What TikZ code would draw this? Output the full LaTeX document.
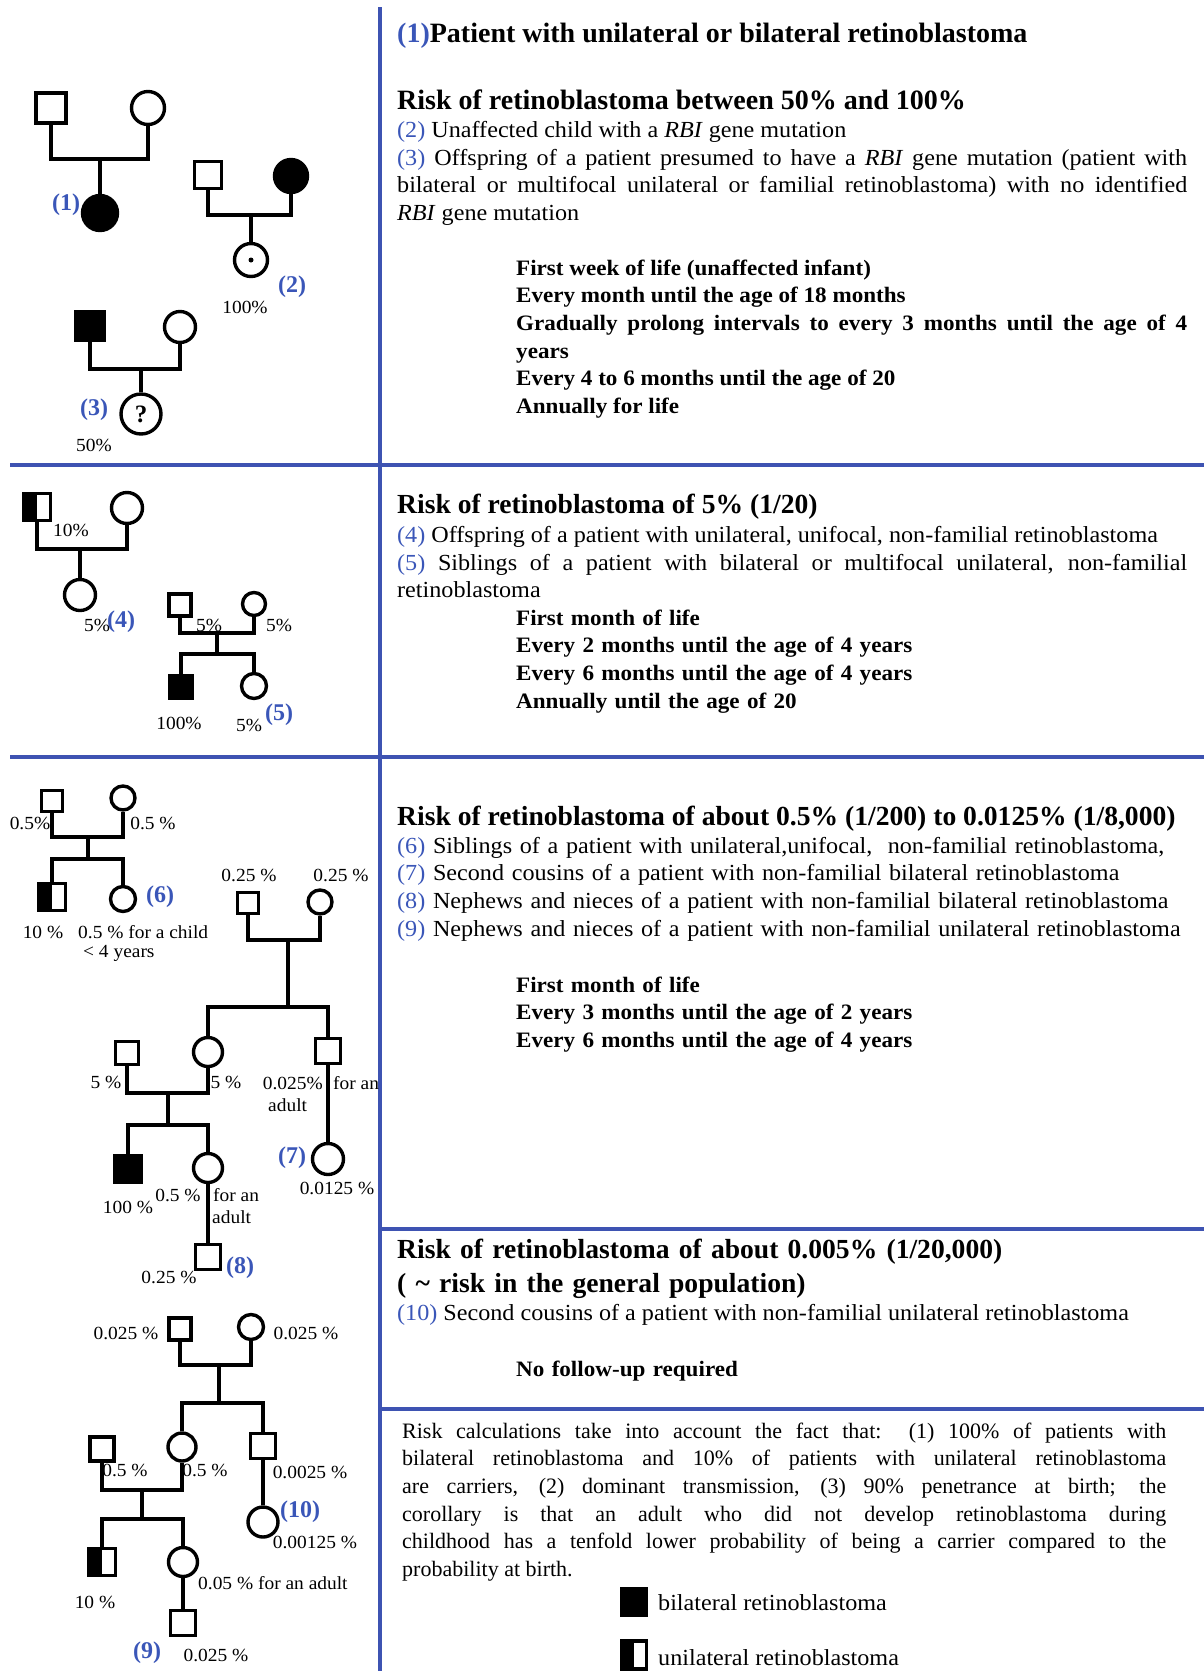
\documentclass[tikz,border=0pt]{standalone}
\usepackage{fontspec}
\setmainfont{Liberation Serif}
\newfontfamily\bodyfont{Liberation Serif}[FakeStretch=1.05]
\usetikzlibrary{positioning}
\definecolor{ruleblue}{RGB}{62,83,178}
\definecolor{numblue}{RGB}{58,86,184}

\begin{document}
\begin{tikzpicture}[x=1pt,y=-1pt,
  ped/.style={draw,line width=3.4pt,inner sep=0pt,fill=white},
  male/.style={ped,rectangle,minimum size=#1},
  male/.default=26pt,
  female/.style={ped,circle,minimum size=#1},
  female/.default=28pt,
  aff/.style={fill=black},
  halfaff/.style={path picture={\fill[black] (path picture bounding box.south west) rectangle (path picture bounding box.north);}},
  carrier/.style={path picture={\fill[black] (path picture bounding box.center) circle (2.5pt);}},
  link/.style={line width=3.4pt},
  rule/.style={draw=ruleblue,line width=4.5pt},
  pct/.style={font=\bodyfont\fontsize{18.5}{21}\selectfont,inner sep=0pt},
  num/.style={text=numblue,font=\bfseries\fontsize{24}{28}\selectfont,inner sep=0pt},
  txt/.style={font=\bodyfont\fontsize{23}{27.7}\selectfont,anchor=base west,inner sep=0pt},
  note/.style={font=\fontsize{22}{27.7}\selectfont,anchor=base west,inner sep=0pt},
  head/.style={font=\bfseries\fontsize{27.6}{34}\selectfont,anchor=base west,inner sep=0pt},
  plan/.style={font=\bodyfont\bfseries\fontsize{22}{27.7}\selectfont,anchor=base west,inner sep=0pt,text width=671pt,align=left}]
\useasboundingbox (0,0) rectangle (1204,1671);

% frame
\draw[rule] (380,7) -- (380,1671);
\draw[rule] (10,465) -- (1204,465);
\draw[rule] (10,757) -- (1204,757);
\draw[rule] (380,1229) -- (1204,1229);
\draw[rule] (380,1409) -- (1204,1409);

% section 1 text
\node[head,font=\bfseries\fontsize{28}{34}\selectfont] (t1) at (397,42) {\textcolor{numblue}{(1)}Patient with unilateral or bilateral retinoblastoma};
\node[head,font=\bfseries\fontsize{28}{34}\selectfont] (h1) at (397,109) {Risk of retinoblastoma between 50\% and 100\%};
\node[txt] (r2) at (397,137) {\textcolor{numblue}{(2)} Unaffected child with a \textit{RBI} gene mutation};
\node[txt,text width=790pt,align=justify] (r3) at (397,165) {\textcolor{numblue}{(3)} Offspring of a patient presumed to have a \textit{RBI} gene mutation (patient with\linebreak bilateral or multifocal unilateral or familial retinoblastoma) with no identified\linebreak \textit{RBI} gene mutation};
\node[plan,align=justify] (p1) at (516,275) {First week of life (unaffected infant)\\ Every month until the age of 18 months\\ Gradually prolong intervals to every 3 months until the age of 4\linebreak years\\ Every 4 to 6 months until the age of 20\\ Annually for life};

% section 2 text
\node[head] (h2) at (397,513) {Risk of retinoblastoma of 5\% (1/20)};
\node[txt] (r4) at (397,542) {\textcolor{numblue}{(4)} Offspring of a patient with unilateral, unifocal, non-familial retinoblastoma};
\node[txt,text width=790pt,align=justify] (r5) at (397,570) {\textcolor{numblue}{(5)} Siblings of a patient with bilateral or multifocal unilateral, non-familial\linebreak retinoblastoma};
\node[plan] (p2) at (516,625) {First month of life\\ Every 2 months until the age of 4 years\\ Every 6 months until the age of 4 years\\ Annually until the age of 20};

% section 3 text
\node[head] (h3) at (397,825) {Risk of retinoblastoma of about 0.5\% (1/200) to 0.0125\% (1/8,000)};
\node[txt,text width=790pt,align=left] (r6) at (397,853) {\textcolor{numblue}{(6)} Siblings of a patient with unilateral,unifocal,\ \ non-familial retinoblastoma,\\
\textcolor{numblue}{(7)} Second cousins of a patient with non-familial bilateral retinoblastoma\\
\textcolor{numblue}{(8)} Nephews and nieces of a patient with non-familial bilateral retinoblastoma\\
\textcolor{numblue}{(9)} Nephews and nieces of a patient with non-familial unilateral retinoblastoma};
\node[plan] (p3) at (516,992) {First month of life\\ Every 3 months until the age of 2 years\\ Every 6 months until the age of 4 years};

% section 4 text
\node[head,text width=790pt,align=left] (h4) at (397,1258) {Risk of retinoblastoma of about 0.005\% (1/20,000)\\( \textasciitilde{} risk in the general population)};
\node[txt] (r10) at (397,1320) {\textcolor{numblue}{(10)} Second cousins of a patient with non-familial unilateral retinoblastoma};
\node[plan] (p4) at (516,1376) {No follow-up required};

% note and legend
\node[note,text width=764pt,align=justify] (rem) at (402,1438) {Risk calculations take into account the fact that:\ \ (1) 100\% of patients with\linebreak bilateral retinoblastoma and 10\% of patients with unilateral retinoblastoma\linebreak are carriers, (2) dominant transmission, (3) 90\% penetrance at birth; the\linebreak corollary is that an adult who did not develop retinoblastoma during\linebreak childhood has a tenfold lower probability of being a carrier compared to the\linebreak probability at birth.};
\node[male=25pt,aff,minimum height=27pt] (kb) at (634,1602) {};
\node[txt] (kbt) at (658,1610) {bilateral retinoblastoma};
\node[male=25pt,halfaff,minimum height=28pt] (ku) at (634,1655) {};
\node[txt] (kut) at (658,1665) {unilateral retinoblastoma};

% pedigree (1)
\node[male=30pt] (f1) at (51,108) {};
\node[female=33pt] (m1) at (148,108) {};
\node[female=35pt,aff] (c1) at (100,213) {};
\coordinate (j1) at (100,159);
\draw[link] (f1.south) |- (j1) -| (m1.south);
\draw[link] (j1) -- (c1.north);
\node[num] (n1) at (66,205) {(1)};

% pedigree (2)
\node[male=27pt] (f2) at (208,175) {};
\node[female=33pt,aff] (m2) at (291,176) {};
\node[female=33pt,carrier] (c2) at (251,260) {};
\coordinate (j2) at (251,215);
\draw[link] (f2.south) |- (j2) -| (m2.south);
\draw[link] (j2) -- (c2.north);
\node[num] (n2) at (292,287) {(2)};
\node[pct] (l2) at (245,307) {100\%};

% pedigree (3)
\node[male=29pt,aff] (f3) at (90,326) {};
\node[female=31pt] (m3) at (180,327) {};
\node[female=40pt,font=\bfseries\fontsize{25}{27}\selectfont] (c3) at (141,414) {?};
\coordinate (j3) at (141,369);
\draw[link] (f3.south) |- (j3) -| (m3.south);
\draw[link] (j3) -- (c3.north);
\node[num] (n3) at (94,410) {(3)};
\node[pct] (l3) at (94,445) {50\%};

% pedigree (4)
\node[male=27pt,halfaff] (f4) at (37,507) {};
\node[female=31pt] (m4) at (127,508) {};
\node[female=31pt] (c4) at (80,595) {};
\coordinate (j4) at (80,549);
\draw[link] (f4.south) |- (j4) -| (m4.south);
\draw[link] (j4) -- (c4.north);
\node[pct,anchor=west] (l4a) at (53,530) {10\%};
\node[pct] (l4b) at (97,625) {5\%};
\node[num] (n4) at (121,622) {(4)};

% pedigree (5)
\node[male=22pt] (f5) at (180,605) {};
\node[female=23pt] (m5) at (254,604) {};
\node[male=23pt,aff] (c5a) at (181,687) {};
\node[female=25pt] (c5b) at (254,686) {};
\coordinate (j5) at (217,633);
\coordinate (s5) at (217,654);
\draw[link] (f5.south) |- (j5) -| (m5.south);
\draw[link] (j5) -- (s5);
\draw[link] (c5a.north) |- (s5) -| (c5b.north);
\node[pct] (l5a) at (209,625) {5\%};
\node[pct] (l5b) at (279,625) {5\%};
\node[pct] (l5c) at (179,723) {100\%};
\node[pct] (l5d) at (249,725) {5\%};
\node[num] (n5) at (279,715) {(5)};

% pedigree (6)
\node[male=21pt] (f6) at (52,801) {};
\node[female=24pt] (m6) at (123,798) {};
\node[male=27pt,halfaff] (c6a) at (52,897) {};
\node[female=25pt] (c6b) at (123,899) {};
\coordinate (j6) at (88,837);
\coordinate (s6) at (88,859);
\draw[link] (f6.south) |- (j6) -| (m6.south);
\draw[link] (j6) -- (s6);
\draw[link] (c6a.north) |- (s6) -| (c6b.north);
\node[pct] (l6a) at (30,823) {0.5\%};
\node[pct] (l6b) at (153,823) {0.5 \%};
\node[num] (n6) at (160,897) {(6)};
\node[pct] (l6c) at (43,932) {10 \%};
\node[pct,anchor=west] (l6d) at (78,932) {0.5 \% for a child};
\node[pct,anchor=west] (l6e) at (83,953) {< 4 years};

% pedigrees (7) and (8)
\node[male=21pt] (f7) at (248,903) {};
\node[female=24pt] (m7) at (320,902) {};
\node[female=29pt] (c7a) at (208,1052) {};
\node[male=25pt] (c7b) at (328,1051) {};
\node[female=31pt] (g7) at (328,1159) {};
\coordinate (j7) at (288,940);
\coordinate (s7) at (288,1007);
\draw[link] (f7.south) |- (j7) -| (m7.south);
\draw[link] (j7) -- (s7);
\draw[link] (c7a.north) |- (s7) -| (c7b.north);
\draw[link] (c7b.south) -- (g7.north);
\node[male=23pt] (f8) at (127,1053) {};
\node[male=27pt,aff] (c8a) at (128,1169) {};
\node[female=29pt] (c8b) at (208,1168) {};
\node[male=25pt] (g8) at (208,1257) {};
\coordinate (j8) at (168,1093);
\coordinate (s8) at (168,1125);
\draw[link] (f8.south) |- (j8) -| (c7a.south);
\draw[link] (j8) -- (s8);
\draw[link] (c8a.north) |- (s8) -| (c8b.north);
\draw[link] (c8b.south) -- (g8.north);
\node[pct] (l7a) at (249,875) {0.25 \%};
\node[pct] (l7b) at (341,875) {0.25 \%};
\node[pct,anchor=east] (l7c) at (323,1083) {0.025\%};
\node[pct,anchor=west] (l7d) at (333,1083) {for an};
\node[pct,anchor=west] (l7e) at (268,1105) {adult};
\node[num] (n7) at (292,1158) {(7)};
\node[pct] (l7f) at (337,1188) {0.0125 \%};
\node[pct] (l8a) at (106,1082) {5 \%};
\node[pct] (l8b) at (226,1082) {5 \%};
\node[pct] (l8c) at (128,1207) {100 \%};
\node[pct] (l8d) at (178,1195) {0.5 \%};
\node[pct,anchor=west] (l8e) at (213,1195) {for an};
\node[pct,anchor=west] (l8f) at (212,1217) {adult};
\node[pct] (l8g) at (169,1277) {0.25 \%};
\node[num] (n8) at (240,1268) {(8)};

% pedigrees (9) and (10)
\node[male=22pt] (f9) at (180,1329) {};
\node[female=25pt] (m9) at (251,1327) {};
\node[female=28pt] (c9a) at (182,1447) {};
\node[male=25pt] (c9b) at (263,1446) {};
\node[female=30pt] (g10) at (263,1522) {};
\coordinate (j9) at (219,1365);
\coordinate (s9) at (219,1403);
\draw[link] (f9.south) |- (j9) -| (m9.south);
\draw[link] (j9) -- (s9);
\draw[link] (c9a.north) |- (s9) -| (c9b.north);
\draw[link] (c9b.south) -- (g10.north);
\node[male=24pt] (f10) at (102,1449) {};
\node[male=27pt,halfaff] (c10a) at (102,1562) {};
\node[female=29pt] (c10b) at (183,1562) {};
\node[male=25pt] (g9) at (183,1623) {};
\coordinate (j10) at (142,1490);
\coordinate (s10) at (142,1519);
\draw[link] (f10.south) |- (j10) -| (c9a.south);
\draw[link] (j10) -- (s10);
\draw[link] (c10a.north) |- (s10) -| (c10b.north);
\draw[link] (c10b.south) -- (g9.north);
\node[pct] (l9a) at (126,1333) {0.025 \%};
\node[pct] (l9b) at (306,1333) {0.025 \%};
\node[pct] (l9c) at (310,1472) {0.0025 \%};
\node[num] (n10) at (300,1512) {(10)};
\node[pct] (l9d) at (315,1542) {0.00125 \%};
\node[pct] (l9e) at (125,1470) {0.5 \%};
\node[pct] (l9f) at (205,1470) {0.5 \%};
\node[pct] (l9g) at (95,1602) {10 \%};
\node[pct,anchor=west] (l9h) at (198,1583) {0.05 \% for an adult};
\node[num] (n9) at (147,1653) {(9)};
\node[pct] (l9i) at (216,1655) {0.025 \%};
\end{tikzpicture}
\end{document}
